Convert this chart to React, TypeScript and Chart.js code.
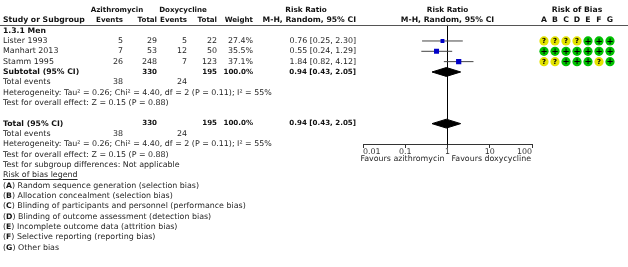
import React, { useEffect, useRef } from "react";
import { Chart, registerables } from "chart.js";

Chart.register(...registerables);

// ---------------- data ----------------
const subgroupTitle = "1.3.1 Men";
const studyNames = ["Lister 1993", "Manhart 2013", "Stamm 1995"];
const aziEvents = [5, 7, 26];
const aziTotal = [29, 53, 248];
const doxEvents = [5, 12, 7];
const doxTotal = [22, 50, 123];
const weights = [27.4, 35.5, 37.1];
const rrEst = [0.76, 0.55, 1.84];
const rrLow = [0.25, 0.24, 0.82];
const rrHigh = [2.3, 1.29, 4.12];
const pooled = { est: 0.94, low: 0.43, high: 2.05 };
const totalEvents = [38, 24];
const totalParticipants = [330, 195];
const heterogeneityText = "Heterogeneity: Tau² = 0.26; Chi² = 4.40, df = 2 (P = 0.11); I² = 55%";
const overallEffectText = "Test for overall effect: Z = 0.15 (P = 0.88)";
const subgroupDiffText = "Test for subgroup differences: Not applicable";
const axisTicks = [0.01, 0.1, 1, 10, 100];
const favoursLeft = "Favours azithromycin";
const favoursRight = "Favours doxycycline";
const biasDomains = ["A", "B", "C", "D", "E", "F", "G"];
const biasLister = ["?", "?", "?", "?", "+", "+", "+"];
const biasManhart = ["+", "+", "+", "+", "+", "+", "+"];
const biasStamm = ["?", "?", "+", "+", "+", "?", "+"];
const biasJudgements = [biasLister, biasManhart, biasStamm];
const biasLegend = [
  "Random sequence generation (selection bias)",
  "Allocation concealment (selection bias)",
  "Blinding of participants and personnel (performance bias)",
  "Blinding of outcome assessment (detection bias)",
  "Incomplete outcome data (attrition bias)",
  "Selective reporting (reporting bias)",
  "Other bias",
];

// ---------------- layout (row indices) ----------------
const ROW = {
  head1: 0,
  head2: 1,
  rule: 1.45,
  subgroup: 2,
  studies: [3, 4, 5],
  subtotal: 6,
  events1: 7,
  het1: 8,
  effect1: 9,
  total: 11,
  events2: 12,
  het2: 13,
  effect2: 14,
  favours: 14.45,
  subDiff: 15,
  legendTitle: 16,
  legendStart: 17,
};
const COL = {
  study: 3,
  aziEvents: 123,
  aziTotal: 157,
  doxEvents: 187,
  doxTotal: 217,
  weight: 253,
  rrText: 356,
  aziHead: 117,
  doxHead: 183,
  rrHead: 306,
};
const FONT = '"DejaVu Sans", Verdana, sans-serif';
const FS = 7.9; // regular text
const FSB = 7.7; // bold labels
const FSN = 7.1; // narrow bold (column headers, bold numbers)
const TEXT = "#262626";
const BOLD = "#111";
const YELLOW = "#e3e300";
const GREEN = "#00c000";
const BLUE = "#0000c8";

const f2 = (v: number) => v.toFixed(2);
const ciText = (e: number, l: number, h: number) => `${f2(e)} [${f2(l)}, ${f2(h)}]`;
const font = (bold: boolean, size?: number) => `${bold ? "bold " : ""}${size ?? (bold ? FSB : FS)}px ${FONT}`;

const tablePlugin = {
  id: "forestTable",
  afterDatasetsDraw(chart: any) {
    const { ctx } = chart;
    const yS = chart.scales.y;
    const xS = chart.scales.x;
    const xb = chart.scales.xb;
    const Y = (r: number) => yS.getPixelForValue(r);
    const text = (s: string, x: number, r: number, align: CanvasTextAlign = "left", bold = false, size?: number) => {
      ctx.font = font(bold, size);
      ctx.fillStyle = bold ? BOLD : TEXT;
      ctx.textAlign = align;
      ctx.textBaseline = "middle";
      ctx.fillText(s, x, Y(r));
    };
    ctx.save();
    // header rule
    ctx.strokeStyle = "#555";
    ctx.lineWidth = 1;
    const ry = Math.round(Y(ROW.rule)) + 0.5;
    ctx.beginPath();
    ctx.moveTo(0, ry);
    ctx.lineTo(chart.width, ry);
    ctx.stroke();

    // headers
    text("Azithromycin", COL.aziHead, ROW.head1, "center", true, FSN);
    text("Doxycycline", COL.doxHead, ROW.head1, "center", true, FSN);
    text("Risk Ratio", COL.rrHead, ROW.head1, "center", true, 7.3);
    text("Risk Ratio", xS.getPixelForValue(1), ROW.head1, "center", true, 7.3);
    text("Risk of Bias", (xb.getPixelForValue(0) + xb.getPixelForValue(biasDomains.length - 1)) / 2, ROW.head1, "center", true);
    text("Study or Subgroup", COL.study, ROW.head2, "left", true);
    text("Events", COL.aziEvents, ROW.head2, "right", true, FSN);
    text("Total", COL.aziTotal, ROW.head2, "right", true, FSN);
    text("Events", COL.doxEvents, ROW.head2, "right", true, FSN);
    text("Total", COL.doxTotal, ROW.head2, "right", true, FSN);
    text("Weight", COL.weight, ROW.head2, "right", true, FSN);
    text("M-H, Random, 95% CI", COL.rrText, ROW.head2, "right", true);
    text("M-H, Random, 95% CI", xS.getPixelForValue(1), ROW.head2, "center", true);
    biasDomains.forEach((d, j) => text(d, xb.getPixelForValue(j), ROW.head2, "center", true));

    // subgroup
    text(subgroupTitle, COL.study, ROW.subgroup, "left", true);
    studyNames.forEach((n, i) => {
      const r = ROW.studies[i];
      text(n, COL.study, r);
      text(String(aziEvents[i]), COL.aziEvents, r, "right");
      text(String(aziTotal[i]), COL.aziTotal, r, "right");
      text(String(doxEvents[i]), COL.doxEvents, r, "right");
      text(String(doxTotal[i]), COL.doxTotal, r, "right");
      text(weights[i].toFixed(1) + "%", COL.weight, r, "right");
      text(ciText(rrEst[i], rrLow[i], rrHigh[i]), COL.rrText, r, "right");
    });
    const totalWeight = weights.reduce((a, b) => a + b, 0);
    const pooledRow = (label: string, r: number) => {
      text(label, COL.study, r, "left", true);
      text(String(totalParticipants[0]), COL.aziTotal, r, "right", true, FSN);
      text(String(totalParticipants[1]), COL.doxTotal, r, "right", true, FSN);
      text(totalWeight.toFixed(1) + "%", COL.weight, r, "right", true, FSN);
      text(ciText(pooled.est, pooled.low, pooled.high), COL.rrText, r, "right", true, FSN);
    };
    const statsBlock = (re: number, rh: number, rt: number) => {
      text("Total events", COL.study, re);
      text(String(totalEvents[0]), COL.aziEvents, re, "right");
      text(String(totalEvents[1]), COL.doxEvents, re, "right");
      text(heterogeneityText, COL.study, rh);
      text(overallEffectText, COL.study, rt);
    };
    pooledRow("Subtotal (95% CI)", ROW.subtotal);
    statsBlock(ROW.events1, ROW.het1, ROW.effect1);
    pooledRow("Total (95% CI)", ROW.total);
    statsBlock(ROW.events2, ROW.het2, ROW.effect2);
    text(subgroupDiffText, COL.study, ROW.subDiff);

    // favours labels
    const x1 = xS.getPixelForValue(1);
    text(favoursLeft, x1 - 3, ROW.favours, "right");
    text(favoursRight, x1 + 4, ROW.favours, "left");

    // legend
    text("Risk of bias legend", COL.study, ROW.legendTitle);
    ctx.font = font(false);
    const lw = ctx.measureText("Risk of bias legend").width;
    const uy = Math.round(Y(ROW.legendTitle) + 4) + 0.5;
    ctx.strokeStyle = TEXT;
    ctx.beginPath();
    ctx.moveTo(COL.study, uy);
    ctx.lineTo(COL.study + lw, uy);
    ctx.stroke();
    biasLegend.forEach((s, k) => {
      const r = ROW.legendStart + k;
      let x = COL.study;
      ctx.font = font(false);
      const wOpen = ctx.measureText("(").width;
      text("(", x, r);
      x += wOpen;
      text(biasDomains[k], x, r, "left", true);
      ctx.font = font(true);
      x += ctx.measureText(biasDomains[k]).width;
      text(") " + s, x, r);
    });

    // risk-of-bias circles (library point elements, drawn outside the plot area) + glyphs
    const idx = chart.data.datasets.findIndex((d: any) => d.label === "bias");
    const meta = chart.getDatasetMeta(idx);
    const flat = biasJudgements.flat();
    meta.data.forEach((el: any) => el.draw(ctx));
    meta.data.forEach((el: any, k: number) => {
      ctx.font = font(true, flat[k] === "+" ? 8.5 : 7);
      ctx.fillStyle = "#000";
      ctx.textAlign = "center";
      ctx.textBaseline = "middle";
      ctx.fillText(flat[k], el.x, el.y + 0.5);
    });
    ctx.restore();
  },
};

const diamond = (row: number) => [
  { x: pooled.low, y: row },
  { x: pooled.est, y: row - 0.43 },
  { x: pooled.high, y: row },
  { x: pooled.est, y: row + 0.43 },
  { x: pooled.low, y: row },
];

export default function App() {
  const ref = useRef<HTMLCanvasElement>(null);
  useEffect(() => {
    document.body.style.margin = "0";
    const canvas = ref.current!;
    const biasSpacing = 11;
    const areaLeft = 363;
    const areaRight = 96;
    const areaWidth = 628 - areaLeft - areaRight;
    const biasStart = 544;
    const xbMin = -(biasStart - areaLeft) / biasSpacing;
    const xbMax = xbMin + areaWidth / biasSpacing;

    const datasets: any[] = [
      {
        type: "scatter",
        label: "bias",
        xAxisID: "xb",
        yAxisID: "y",
        data: biasJudgements.flatMap((row, i) => row.map((_, j) => ({ x: j, y: ROW.studies[i] }))),
        pointBackgroundColor: biasJudgements.flat().map((j) => (j === "+" ? GREEN : YELLOW)),
        pointBorderWidth: 0,
        pointRadius: 4.6,
        clip: false,
      },
      {
        type: "scatter",
        label: "studies",
        data: rrEst.map((v, i) => ({ x: v, y: ROW.studies[i] })),
        pointStyle: "rect",
        pointRadius: weights.map((w) => w / 10),
        pointBackgroundColor: BLUE,
        pointBorderWidth: 0,
      },
      ...rrEst.map((_, i) => ({
        type: "line",
        label: "ci" + i,
        data: [
          { x: rrLow[i], y: ROW.studies[i] },
          { x: rrHigh[i], y: ROW.studies[i] },
        ],
        borderColor: "#444",
        borderWidth: 1,
        pointRadius: 0,
        fill: false,
      })),
      ...[ROW.subtotal, ROW.total].map((r) => ({
        type: "line",
        label: "diamond",
        data: diamond(r),
        borderColor: "#000",
        backgroundColor: "#000",
        borderWidth: 1,
        pointRadius: 0,
        fill: "shape",
        tension: 0,
      })),
      {
        type: "line",
        label: "null",
        data: [
          { x: 1, y: ROW.rule },
          { x: 1, y: ROW.het2 },
        ],
        borderColor: "#000",
        borderWidth: 1,
        pointRadius: 0,
        fill: false,
      },
    ];

    const chart = new Chart(canvas, {
      type: "scatter",
      data: { datasets },
      options: {
        animation: false,
        responsive: false,
        maintainAspectRatio: false,
        devicePixelRatio: 1,
        layout: { padding: { left: areaLeft, right: areaRight, top: 0, bottom: 0 } },
        plugins: { legend: { display: false }, tooltip: { enabled: false } },
        events: [],
        scales: {
          x: {
            type: "logarithmic",
            min: axisTicks[0],
            max: axisTicks[axisTicks.length - 1],
            position: { y: ROW.het2 } as any,
            afterBuildTicks: (axis: any) => {
              axis.ticks = axisTicks.map((v) => ({ value: v }));
            },
            grid: { drawOnChartArea: false, drawTicks: true, tickLength: 3, color: "#333" },
            border: { display: true, color: "#333", width: 1 },
            ticks: {
              align: "inner",
              autoSkip: false,
              maxRotation: 0,
              padding: 0,
              color: "#333",
              font: { family: FONT, size: FS },
              callback: (v: any) => String(v),
            },
          },
          xb: { type: "linear", display: false, min: xbMin, max: xbMax },
          y: { type: "linear", display: false, reverse: true, min: -0.52, max: 24.43 },
        },
      } as any,
      plugins: [tablePlugin],
    });
    return () => chart.destroy();
  }, []);
  return (
    <div style={{ width: 628, height: 267 }}>
      <canvas ref={ref} width={628} height={267} style={{ display: "block" }} />
    </div>
  );
}
